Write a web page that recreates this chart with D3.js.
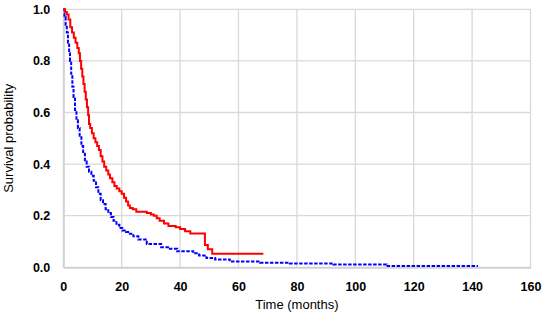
<!DOCTYPE html>
<html>
<head>
<meta charset="utf-8">
<script src="https://cdn.jsdelivr.net/npm/d3@7"></script>
<style>
  html, body { margin: 0; padding: 0; background: #fff; }
  svg { display: block; }
  .tick text { font-family: 'Liberation Sans', Arial, sans-serif; font-weight: bold; font-size: 12.5px; fill: #000; }
  .title { font-family: 'Liberation Sans', Arial, sans-serif; font-size: 13px; fill: #000; }
</style>
</head>
<body>
<svg id="chart"></svg>
<script>
// Kaplan-Meier curves (months, survival)
const redTime = [0, 0.6, 1.2, 1.8, 2.4, 3, 3.6, 4.2, 4.8, 5.3, 5.7, 6.1, 6.5, 6.9, 7.3, 7.7, 8.1, 8.5, 8.8, 9.2, 9.8, 10.4, 11, 11.6, 12.2, 12.8, 13.4, 14, 14.7, 15.4, 16, 16.8, 17.5, 18.3, 19.2, 20, 20.8, 21.5, 22.2, 22.8, 23.8, 25, 28.6, 30, 31, 32, 33, 34.5, 36, 38.5, 40, 41.7, 43.5, 48.5, 49.5, 51, 68.5]
const redSurv = [1, 0.99, 0.98, 0.96, 0.93, 0.91, 0.89, 0.87, 0.85, 0.83, 0.8, 0.77, 0.74, 0.71, 0.68, 0.65, 0.62, 0.59, 0.555, 0.54, 0.52, 0.5, 0.485, 0.47, 0.455, 0.43, 0.41, 0.39, 0.375, 0.36, 0.345, 0.33, 0.315, 0.305, 0.295, 0.285, 0.27, 0.255, 0.24, 0.23, 0.225, 0.215, 0.21, 0.205, 0.2, 0.19, 0.18, 0.17, 0.16, 0.155, 0.148, 0.14, 0.131, 0.086, 0.07, 0.053, 0.053]

const blueTime = [0, 0.4, 0.8, 1.2, 1.6, 2, 2.3, 2.7, 3.1, 3.5, 4, 4.5, 5, 5.6, 6.2, 6.8, 7.4, 8, 8.8, 9.6, 10.4, 11.2, 12, 12.8, 13.6, 14.5, 15.4, 16.3, 17.2, 18.2, 19.2, 20.2, 21.5, 22.8, 24, 25.7, 28.6, 33.5, 36.5, 39, 44.5, 46.5, 49, 52, 57, 67.4, 77.6, 92.5, 110.7, 142]
const blueSurv = [1, 0.97, 0.94, 0.91, 0.87, 0.83, 0.8, 0.75, 0.7, 0.66, 0.61, 0.57, 0.54, 0.51, 0.47, 0.44, 0.41, 0.39, 0.37, 0.355, 0.335, 0.31, 0.285, 0.26, 0.245, 0.225, 0.21, 0.195, 0.18, 0.165, 0.152, 0.143, 0.137, 0.13, 0.12, 0.108, 0.09, 0.078, 0.072, 0.062, 0.054, 0.046, 0.036, 0.03, 0.022, 0.018, 0.015, 0.011, 0.005, 0.005]

const xTicks = [0, 20, 40, 60, 80, 100, 120, 140, 160]
const yTicks = [0, 0.2, 0.4, 0.6, 0.8, 1.0]

const width = 542
const height = 316
const margin = { top: 9.3, right: 11.5, bottom: 48.7, left: 63.3 }

const svg = d3.select('#chart')
  .attr('width', width)
  .attr('height', height)

const x = d3.scaleLinear().domain([0, 160]).range([margin.left, width - margin.right])
const y = d3.scaleLinear().domain([0, 1]).range([height - margin.bottom, margin.top])

// gridlines
svg.append('g')
  .selectAll('line')
  .data(xTicks.slice(1))
  .join('line')
  .attr('x1', d => x(d)).attr('x2', d => x(d))
  .attr('y1', y(0)).attr('y2', y(1))
  .attr('stroke', '#d9d9d9')
  .attr('stroke-width', 1.3)

svg.append('g')
  .selectAll('line')
  .data(yTicks.slice(1))
  .join('line')
  .attr('x1', x(0)).attr('x2', x(160))
  .attr('y1', d => y(d)).attr('y2', d => y(d))
  .attr('stroke', '#d9d9d9')
  .attr('stroke-width', 1.3)

// axes
const xAxis = d3.axisBottom(x)
  .tickValues(xTicks)
  .tickSize(0)
  .tickPadding(15)
  .tickFormat(d3.format('d'))

const yAxis = d3.axisLeft(y)
  .tickValues(yTicks)
  .tickSize(0)
  .tickPadding(13)
  .tickFormat(d3.format('.1f'))

svg.append('g')
  .attr('transform', `translate(0, ${y(0)})`)
  .call(xAxis)
  .call(g => g.select('.domain').attr('stroke', '#d0d0d0').attr('stroke-width', 2))

svg.append('g')
  .attr('transform', `translate(${x(0)}, 0)`)
  .call(yAxis)
  .call(g => g.select('.domain').attr('stroke', '#d0d0d0').attr('stroke-width', 2))

// curves
const line = d3.line()
  .x(d => x(d[0]))
  .y(d => y(d[1]))
  .curve(d3.curveStepAfter)

svg.append('path')
  .datum(blueTime.map((t, i) => [t, blueSurv[i]]))
  .attr('fill', 'none')
  .attr('stroke', '#0000ff')
  .attr('stroke-width', 2)
  .attr('stroke-dasharray', '3.5,1.5')
  .attr('d', line)

svg.append('path')
  .datum(redTime.map((t, i) => [t, redSurv[i]]))
  .attr('fill', 'none')
  .attr('stroke', '#ff0000')
  .attr('stroke-width', 2)
  .attr('d', line)

// axis titles
svg.append('text')
  .attr('class', 'title')
  .attr('x', (x(0) + x(160)) / 2)
  .attr('y', 309)
  .attr('text-anchor', 'middle')
  .text('Time (months)')

svg.append('text')
  .attr('class', 'title')
  .attr('transform', `translate(13, ${(y(0) + y(1)) / 2}) rotate(-90)`)
  .attr('text-anchor', 'middle')
  .text('Survival probability')
</script>
</body>
</html>
